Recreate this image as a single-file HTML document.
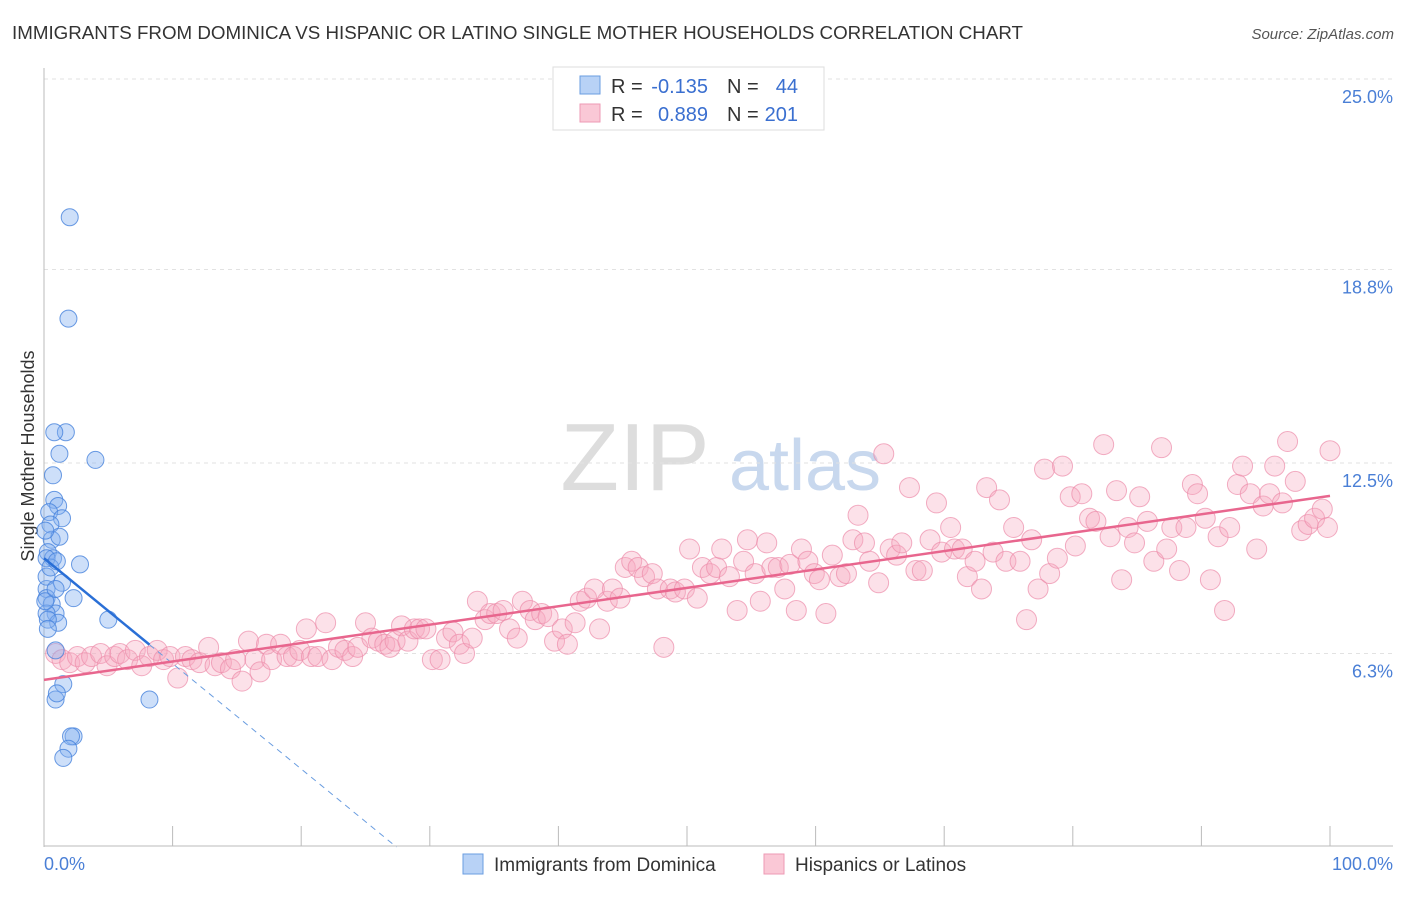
<!DOCTYPE html>
<html><head><meta charset="utf-8"><style>
body{margin:0;background:#fff;font-family:"Liberation Sans",sans-serif;}
svg text{font-family:"Liberation Sans",sans-serif;}
</style></head><body>
<svg id="c" width="1406" height="892">
<text x="12" y="39" font-size="18" fill="#333" textLength="1011" lengthAdjust="spacingAndGlyphs">IMMIGRANTS FROM DOMINICA VS HISPANIC OR LATINO SINGLE MOTHER HOUSEHOLDS CORRELATION CHART</text>
<text x="1394" y="39" font-size="15" fill="#555" font-style="italic" text-anchor="end">Source: ZipAtlas.com</text>
<text x="0" y="0" transform="translate(34,456) rotate(-90)" font-size="18" fill="#333" text-anchor="middle">Single Mother Households</text>
<g><text x="635" y="490" font-size="96" font-family="Liberation Serif" fill="#ddd" text-anchor="middle">ZIP</text><text x="805" y="490" font-size="72" fill="#c8d8ee" text-anchor="middle">atlas</text></g>
<g id="grid"></g><g id="axes"></g><g id="pts"></g><g id="lines"></g>
<g>
<rect x="553" y="67" width="271" height="63" fill="#fff" stroke="#ddd"/>
<rect x="580" y="76" width="20" height="18" fill="#b8d2f6" stroke="#6a9de0"/>
<rect x="580" y="104" width="20" height="18" fill="#fac8d6" stroke="#ee9ab4"/>
<text x="611" y="93" font-size="20" fill="#333">R =</text>
<text x="708" y="93" font-size="20" fill="#3a6fd0" text-anchor="end">-0.135</text>
<text x="727" y="93" font-size="20" fill="#333">N =</text>
<text x="798" y="93" font-size="20" fill="#3a6fd0" text-anchor="end">44</text>
<text x="611" y="121" font-size="20" fill="#333">R =</text>
<text x="708" y="121" font-size="20" fill="#3a6fd0" text-anchor="end">0.889</text>
<text x="727" y="121" font-size="20" fill="#333">N =</text>
<text x="798" y="121" font-size="20" fill="#3a6fd0" text-anchor="end">201</text>
</g>
<g>
<rect x="463" y="854" width="20" height="20" fill="#b8d2f6" stroke="#6a9de0"/>
<text x="494" y="871" font-size="19" fill="#333">Immigrants from Dominica</text>
<rect x="764" y="854" width="20" height="20" fill="#fac8d6" stroke="#ee9ab4"/>
<text x="795" y="871" font-size="19" fill="#333">Hispanics or Latinos</text>
</g>
</svg>
<script>
const yTicks=[25.0,18.8,12.5,6.3];
const yTickLabels=["25.0%","18.8%","12.5%","6.3%"];
const xTickLabels=["0.0%","100.0%"];
const blueX=[2.0,1.9,1.7,0.8,1.2,4.0,0.7,0.8,1.1,0.4,1.4,0.5,0.6,1.2,0.3,2.8,0.7,0.2,0.2,1.4,0.2,0.6,2.3,0.9,0.2,1.1,5.0,0.9,8.2,1.5,0.9,1.0,2.3,2.1,1.9,1.5,0.1,0.3,0.2,0.9,0.5,0.1,1.0,0.3];
const blueY=[20.5,17.2,13.5,13.5,12.8,12.6,12.1,11.3,11.1,10.9,10.7,10.5,10.0,10.1,9.6,9.2,9.4,9.4,8.4,8.6,8.1,7.9,8.1,7.6,7.6,7.3,7.4,6.4,4.8,5.3,4.8,5.0,3.6,3.6,3.2,2.9,8.0,7.4,8.8,8.4,9.1,10.3,9.3,7.1];
const pinkX=[0.9,1.4,2.0,2.6,3.2,3.7,4.4,4.9,5.5,5.9,6.5,7.1,7.6,8.2,8.8,9.3,9.8,10.4,11.0,11.5,12.1,12.8,13.3,13.8,14.5,14.9,15.4,15.9,16.4,16.8,17.3,17.7,18.4,18.9,19.4,19.9,20.4,20.8,21.3,21.9,22.4,22.9,23.4,24.0,24.4,25.0,25.5,26.0,26.5,26.9,27.3,27.8,28.3,28.8,29.2,29.7,30.2,30.8,31.3,31.8,32.3,32.7,33.3,33.7,34.3,34.7,35.2,35.7,36.2,36.8,37.2,37.8,38.2,38.7,39.2,39.7,40.3,40.7,41.3,41.7,42.2,42.8,43.2,43.8,44.2,44.8,45.2,45.7,46.2,46.7,47.3,47.7,48.2,48.7,49.1,49.8,50.2,50.8,51.2,51.8,52.3,52.7,53.3,53.9,54.4,54.7,55.3,55.7,56.2,56.6,57.1,57.6,58.0,58.5,58.9,59.4,59.9,60.3,60.8,61.3,61.9,62.4,62.9,63.3,63.8,64.2,64.9,65.3,65.8,66.3,66.7,67.3,67.8,68.3,68.9,69.4,69.8,70.5,70.8,71.4,71.8,72.4,72.9,73.3,73.8,74.3,74.8,75.4,75.9,76.4,76.8,77.3,77.8,78.2,78.8,79.2,79.8,80.2,80.7,81.3,81.8,82.4,82.9,83.4,83.8,84.3,84.8,85.2,85.8,86.3,86.9,87.3,87.7,88.3,88.8,89.3,89.7,90.3,90.7,91.3,91.8,92.2,92.8,93.2,93.8,94.3,94.8,95.3,95.7,96.3,96.7,97.3,97.8,98.3,98.8,99.4,99.8,100];
const pinkY=[6.3,6.1,6.0,6.2,6.0,6.2,6.3,5.9,6.2,6.3,6.1,6.4,5.9,6.2,6.4,6.1,6.2,5.5,6.2,6.1,6.0,6.5,5.9,6.0,5.8,6.1,5.4,6.7,6.1,5.7,6.6,6.1,6.6,6.2,6.2,6.4,7.1,6.2,6.2,7.3,6.1,6.5,6.4,6.2,6.5,7.3,6.8,6.7,6.6,6.5,6.7,7.2,6.7,7.1,7.1,7.1,6.1,6.1,6.8,7.0,6.6,6.3,6.8,8.0,7.4,7.6,7.6,7.7,7.1,6.8,8.0,7.7,7.4,7.6,7.5,6.7,7.1,6.6,7.3,8.0,8.1,8.4,7.1,8.0,8.4,8.1,9.1,9.3,9.1,8.8,8.9,8.4,6.5,8.4,8.3,8.4,9.7,8.1,9.1,8.9,9.1,9.7,8.8,7.7,9.3,10.0,8.9,8.0,9.9,9.1,9.1,8.4,9.2,7.7,9.7,9.3,8.9,8.7,7.6,9.5,8.8,8.9,10.0,10.8,9.9,9.3,8.6,12.8,9.7,9.5,9.9,11.7,9.0,9.0,10.0,11.2,9.6,10.4,9.7,9.7,8.8,9.3,8.4,11.7,9.6,11.3,9.3,10.4,9.3,7.4,10.0,8.4,12.3,8.9,9.4,12.4,11.4,9.8,11.5,10.7,10.6,13.1,10.1,11.6,8.7,10.4,9.9,11.4,10.6,9.3,13.0,9.7,10.4,9.0,10.4,11.8,11.5,10.7,8.7,10.1,7.7,10.4,11.8,12.4,11.5,9.7,11.1,11.5,12.4,11.2,13.2,11.9,10.3,10.5,10.7,11.0,10.4,12.9];
const blueFit=[9.4,-0.343];
const pinkFit=[5.44,0.0599];
const X0=44,X1=1330,YB=847,PPU=30.72;
const sx=v=>X0+(X1-X0)*v/100, sy=v=>YB-v*PPU;
const NS="http://www.w3.org/2000/svg";
function mk(tag,attrs,parent,txt){const e=document.createElementNS(NS,tag);for(const k in attrs)e.setAttribute(k,attrs[k]);if(txt!==undefined)e.textContent=txt;document.getElementById(parent).appendChild(e);return e;}
yTicks.forEach((t,i)=>{
 const g=mk('line',{x1:44,x2:1393,y1:sy(t),y2:sy(t),stroke:'#e2e2e2','stroke-dasharray':'4,4'},'grid');
 
 
 const l=mk('text',{x:1393,y:sy(t)+24,'font-size':18,fill:'#4a7fd6','text-anchor':'end'},'grid',yTickLabels[i]);
 
 
});
const ax=mk('line',{x1:44,x2:44,y1:68,y2:847,stroke:'#bbb'},'axes');


const bx=mk('line',{x1:44,x2:1393,y1:846,y2:846,stroke:'#bbb'},'axes');


for(let i=0;i<=10;i++){const t=mk('line',{x1:sx(i*10),x2:sx(i*10),y1:826,y2:846,stroke:'#bbb'},'axes');
 
 }
const xl0=mk('text',{x:44,y:870,'font-size':18,fill:'#4a7fd6'},'axes',xTickLabels[0]);


const xl1=mk('text',{x:1393,y:870,'font-size':18,fill:'#4a7fd6','text-anchor':'end'},'axes',xTickLabels[1]);


pinkX.forEach((x,i)=>{const c=mk('circle',{cx:sx(x),cy:sy(pinkY[i]),r:10,fill:'rgba(246,170,193,0.35)',stroke:'rgba(236,140,170,0.7)','stroke-width':1},'pts');
 
 });
blueX.forEach((x,i)=>{const c=mk('circle',{cx:sx(x),cy:sy(blueY[i]),r:8.5,fill:'rgba(130,175,240,0.4)',stroke:'rgba(70,130,220,0.8)','stroke-width':1},'pts');
 
 });
const bf=x=>blueFit[0]+blueFit[1]*x, pf=x=>pinkFit[0]+pinkFit[1]*x;
const xEnd=blueFit[0]/-blueFit[1];
const bd=mk('line',{x1:sx(8.2),y1:sy(bf(8.2)),x2:sx(xEnd),y2:sy(0),stroke:'#6a9de0','stroke-dasharray':'6,5','stroke-width':1},'lines');


const bl=mk('line',{x1:sx(0),y1:sy(bf(0)),x2:sx(8.2),y2:sy(bf(8.2)),stroke:'#2a6fd6','stroke-width':2.5},'lines');


const pl=mk('line',{x1:sx(0),y1:sy(pf(0)),x2:sx(100),y2:sy(pf(100)),stroke:'#e8668e','stroke-width':2.5},'lines');


</script>
</body></html>
